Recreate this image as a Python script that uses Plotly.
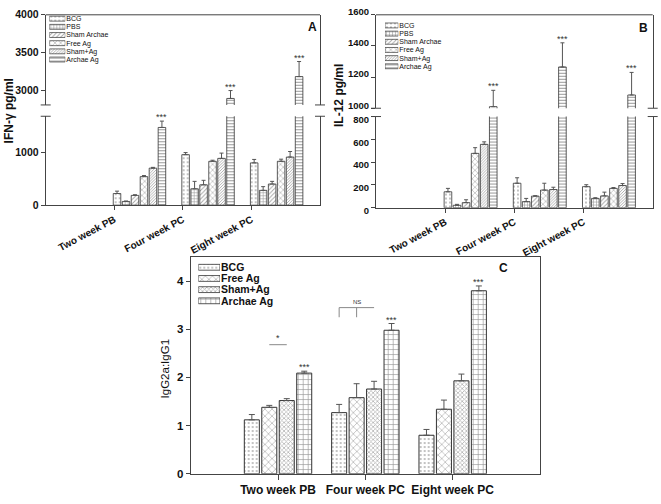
import plotly.graph_objects as go

# ---------------- data ----------------
groups = ["Two week PB", "Four week PC", "Eight week PC"]
series_ab = ["BCG", "PBS", "Sham Archae", "Free Ag", "Sham+Ag", "Archae Ag"]
series_c = ["BCG", "Free Ag", "Sham+Ag", "Archae Ag"]

# Panel A: IFN-gamma pg/ml
ifn_bcg = [220, 955, 800]
ifn_bcg_err = [45, 40, 65]
ifn_pbs = [70, 310, 280]
ifn_pbs_err = [8, 140, 70]
ifn_sham_archae = [185, 385, 400]
ifn_sham_archae_err = [12, 85, 50]
ifn_free_ag = [540, 830, 830]
ifn_free_ag_err = [20, 20, 40]
ifn_sham_ag = [700, 885, 910]
ifn_sham_ag_err = [15, 100, 105]
ifn_archae_ag = [1470, 2890, 3180]
ifn_archae_ag_err = [120, 105, 200]

# Panel B: IL-12 pg/ml
il12_bcg = [140, 215, 185]
il12_bcg_err = [30, 48, 17]
il12_pbs = [22, 54, 82]
il12_pbs_err = [8, 28, 6]
il12_sham_archae = [45, 102, 104]
il12_sham_archae_err = [25, 4, 33]
il12_free_ag = [477, 155, 170]
il12_free_ag_err = [50, 60, 7]
il12_sham_ag = [556, 160, 195]
il12_sham_ag_err = [22, 20, 17]
il12_archae_ag = [1010, 1265, 1085]
il12_archae_ag_err = [105, 155, 145]

# Panel C: IgG2a:IgG1
igg_bcg = [1.12, 1.27, 0.80]
igg_bcg_err = [0.11, 0.17, 0.12]
igg_free_ag = [1.38, 1.58, 1.34]
igg_free_ag_err = [0.04, 0.29, 0.19]
igg_sham_ag = [1.52, 1.76, 1.93]
igg_sham_ag_err = [0.04, 0.16, 0.14]
igg_archae_ag = [2.09, 2.98, 3.80]
igg_archae_ag_err = [0.04, 0.14, 0.10]

# axis ticks / ranges
a_low_ticks = [0, 1000]
a_high_ticks = [3000, 3500, 4000]
b_low_ticks = [0, 200, 400, 600, 800]
b_high_ticks = [1000, 1200, 1400, 1600]
c_ticks = [0, 1, 2, 3, 4]

# significance annotation levels (panel C)
star_bracket_y = 2.68
ns_bracket_top = 3.45
ns_bracket_bottom = 3.25

# ---------------- styling ----------------
FONT = "Liberation Sans, Arial, sans-serif"
W, H = 661, 504
LINE = "#444"


def px(x):
    return x / W


def py(y):
    return 1 - y / H


pat_ab = {
    "BCG": dict(shape=".", size=4, solidity=0.18, fgcolor="#555"),
    "PBS": dict(shape="+", size=3, solidity=0.35, fgcolor="#333"),
    "Sham Archae": dict(shape="/", size=3, solidity=0.3, fgcolor="#444"),
    "Free Ag": dict(shape="x", size=4, solidity=0.25, fgcolor="#444"),
    "Sham+Ag": dict(shape="/", size=2, solidity=0.45, fgcolor="#555"),
    "Archae Ag": dict(shape="-", size=3, solidity=0.35, fgcolor="#333"),
}
pat_c = {
    "BCG": dict(shape=".", size=4, solidity=0.18, fgcolor="#555"),
    "Free Ag": dict(shape="x", size=5, solidity=0.22, fgcolor="#444"),
    "Sham+Ag": dict(shape="x", size=3, solidity=0.45, fgcolor="#666"),
    "Archae Ag": dict(shape="+", size=5, solidity=0.25, fgcolor="#333"),
}

AB_W, AB_STEP, AB_START = 0.11, 0.131, -0.015
C_W, C_STEP, C_START = 0.172, 0.2, -0.386

fig = go.Figure()


def add_bars(vals, errs, names, pats, xref, yrefs, width, step, start, lw, capw):
    for i, name in enumerate(names):
        for yr in yrefs:
            fig.add_trace(go.Bar(
                x=groups, y=vals[i], name=name, xaxis=xref, yaxis=yr,
                width=width, offset=start + i * step,
                marker=dict(color="white", line=dict(color="#333", width=lw),
                            pattern=dict(bgcolor="white", **pats[name])),
                error_y=dict(type="data", array=errs[i], arrayminus=[0] * len(errs[i]),
                             symmetric=False, color="#555", thickness=1, width=capw),
                showlegend=False, hoverinfo="skip"))


ifn_vals = [ifn_bcg, ifn_pbs, ifn_sham_archae, ifn_free_ag, ifn_sham_ag, ifn_archae_ag]
ifn_errs = [ifn_bcg_err, ifn_pbs_err, ifn_sham_archae_err, ifn_free_ag_err, ifn_sham_ag_err, ifn_archae_ag_err]
il12_vals = [il12_bcg, il12_pbs, il12_sham_archae, il12_free_ag, il12_sham_ag, il12_archae_ag]
il12_errs = [il12_bcg_err, il12_pbs_err, il12_sham_archae_err, il12_free_ag_err, il12_sham_ag_err, il12_archae_ag_err]
igg_vals = [igg_bcg, igg_free_ag, igg_sham_ag, igg_archae_ag]
igg_errs = [igg_bcg_err, igg_free_ag_err, igg_sham_ag_err, igg_archae_ag_err]

add_bars(ifn_vals, ifn_errs, series_ab, pat_ab, "x", ["y", "y2"], AB_W, AB_STEP, AB_START, 0.8, 2)
add_bars(il12_vals, il12_errs, series_ab, pat_ab, "x2", ["y3", "y4"], AB_W, AB_STEP, AB_START, 0.8, 2)
add_bars(igg_vals, igg_errs, series_c, pat_c, "x3", ["y5"], C_W, C_STEP, C_START, 1, 3)


# legend swatches as small bar charts
def add_legend(names, pats, xref, yref, bw, lw):
    fig.add_trace(go.Bar(
        orientation="h", y=names, x=[1] * len(names), width=bw, xaxis=xref, yaxis=yref,
        marker=dict(color="white", line=dict(color="#333", width=lw),
                    pattern=dict(shape=[pats[n]["shape"] for n in names],
                                 size=[pats[n]["size"] for n in names],
                                 solidity=[pats[n]["solidity"] for n in names],
                                 fgcolor=[pats[n]["fgcolor"] for n in names],
                                 bgcolor="white")),
        showlegend=False, hoverinfo="skip"))


add_legend(series_ab, pat_ab, "x4", "y6", 0.6, 0.7)
add_legend(series_ab, pat_ab, "x5", "y7", 0.6, 0.7)
add_legend(series_c, pat_c, "x6", "y8", 0.52, 0.8)


def xcat(dom, anchor, size, angle, ticklen=4):
    return dict(domain=dom, anchor=anchor, type="category", range=[-1, 3],
                showline=True, linecolor=LINE, linewidth=1, ticks="outside", ticklen=ticklen,
                tickcolor=LINE, tickangle=angle, showgrid=False, zeroline=False,
                tickfont=dict(family=FONT, size=size, color="#111", weight="bold"))


def ylin(dom, anchor, rng, tv, size=10.5, shift=0):
    return dict(domain=dom, anchor=anchor, range=rng, tickvals=tv, showline=True, mirror=True,
                linecolor=LINE, linewidth=1, ticks="outside", ticklen=4, tickcolor=LINE,
                showgrid=False, zeroline=False, ticklabelshift=shift,
                tickfont=dict(family=FONT, size=size, color="#111", weight="bold"))


def leg_axes(xdom, ydom, names, size, bold, xa_anchor, ya_anchor):
    xa = dict(domain=xdom, anchor=xa_anchor, range=[0, 1], visible=False, fixedrange=True)
    ya = dict(domain=ydom, anchor=ya_anchor, type="category", categoryorder="array",
              categoryarray=names, tickmode="array", tickvals=names, ticktext=names,
              range=[len(names) - 0.5, -0.5], side="right", showline=False, ticks="",
              showgrid=False, zeroline=False,
              tickfont=dict(family=FONT, size=size, color="#111", weight="bold" if bold else "normal"))
    return xa, ya


A_X = [px(45.7), px(320)]
A_LOW = [py(203), py(111)]
A_HIGH = [py(99.3), py(6)]
B_X = [px(376), px(652.7)]
B_LOW = [py(205.7), py(111.3)]
B_HIGH = [py(102.7), py(6)]
C_X = [px(190.7), px(540)]
C_Y = [py(481), py(256.7)]

lxA, lyA = leg_axes([px(49.3), px(65.3)], [py(56.5), py(5.8)], series_ab, 7, False, "y6", "x4")
lxB, lyB = leg_axes([px(385), px(398.3)], [py(63.5), py(12.8)], series_ab, 7, False, "y7", "x5")
lxC, lyC = leg_axes([px(198.3), px(220)], [py(307.8), py(261.5)], series_c, 10.5, True, "y8", "x6")

a_low_max = 1682
b_low_max = 800

fig.update_layout(
    width=W, height=H, margin=dict(l=0, r=0, t=0, b=0),
    paper_bgcolor="white", plot_bgcolor="white", barmode="overlay", showlegend=False,
    font=dict(family=FONT, color="#222"),
    xaxis=xcat(A_X, "y", 10, -28),
    yaxis=ylin(A_LOW, "x", [0, a_low_max], a_low_ticks),
    yaxis2=ylin(A_HIGH, "x", [2804, 4000], a_high_ticks),
    xaxis2=xcat(B_X, "y3", 10, -28),
    yaxis3=ylin(B_LOW, "x2", [0, b_low_max], b_low_ticks, 9.5, 3),
    yaxis4=ylin(B_HIGH, "x2", [1000, 1600], b_high_ticks, 9.5, -3),
    xaxis3=dict(xcat(C_X, "y5", 12, 0, 5), mirror=True),
    yaxis5=ylin(C_Y, "x3", [0, 4.5], c_ticks, 11.5),
    xaxis4=lxA, yaxis6=lyA, xaxis5=lxB, yaxis7=lyB, xaxis6=lxC, yaxis8=lyC,
)

shapes = []
# top border of broken panels and break marks
for xd, low, high in [(A_X, A_LOW, A_HIGH), (B_X, B_LOW, B_HIGH)]:
    shapes.append(dict(type="line", xref="paper", yref="paper", x0=xd[0], x1=xd[1],
                       y0=high[1], y1=high[1], line=dict(color=LINE, width=1)))
    for xe in xd:
        for ye in (low[1], high[0]):
            shapes.append(dict(type="line", xref="paper", yref="paper",
                               x0=xe - 5 / W, x1=xe + 5 / W, y0=ye, y1=ye,
                               line=dict(color=LINE, width=1)))

annotations = []


def center(i, start, step, width):
    return start + i * step + width / 2


star_font = dict(family=FONT, size=9, color="#333")
last_ab = len(series_ab) - 1
for g in range(len(groups)):
    top = ifn_archae_ag[g] + ifn_archae_ag_err[g]
    annotations.append(dict(x=g + center(last_ab, AB_START, AB_STEP, AB_W), xref="x",
                            y=top, yref="y" if top <= a_low_max else "y2",
                            text="***", showarrow=False, xanchor="center", yanchor="bottom",
                            yshift=-3, font=star_font))
    top = il12_archae_ag[g] + il12_archae_ag_err[g]
    annotations.append(dict(x=g + center(last_ab, AB_START, AB_STEP, AB_W), xref="x2",
                            y=top, yref="y3" if top <= b_low_max else "y4",
                            text="***", showarrow=False, xanchor="center", yanchor="bottom",
                            yshift=-3, font=star_font))
    top = igg_archae_ag[g] + igg_archae_ag_err[g]
    annotations.append(dict(x=g + center(3, C_START, C_STEP, C_W), xref="x3",
                            y=top, yref="y5", text="***", showarrow=False,
                            xanchor="center", yanchor="bottom", yshift=-3, font=star_font))

# panel C significance brackets
c_free = center(1, C_START, C_STEP, C_W)
c_sham = center(2, C_START, C_STEP, C_W)
c_bcg = center(0, C_START, C_STEP, C_W)
shapes.append(dict(type="line", xref="x3", yref="y5", x0=0 + c_free, x1=0 + c_sham,
                   y0=star_bracket_y, y1=star_bracket_y, line=dict(color="#888", width=1)))
annotations.append(dict(x=0 + (c_free + c_sham) / 2, xref="x3", y=star_bracket_y, yref="y5",
                        text="*", showarrow=False, xanchor="center", yanchor="bottom", yshift=0,
                        font=star_font))
shapes.append(dict(type="line", xref="x3", yref="y5", x0=1 + c_bcg, x1=1 + c_sham,
                   y0=ns_bracket_top, y1=ns_bracket_top, line=dict(color="#888", width=1)))
for cx in (c_bcg, c_free):
    shapes.append(dict(type="line", xref="x3", yref="y5", x0=1 + cx, x1=1 + cx,
                       y0=ns_bracket_bottom, y1=ns_bracket_top, line=dict(color="#888", width=1)))
annotations.append(dict(x=1 + c_free, xref="x3", y=ns_bracket_top, yref="y5",
                        text="NS", showarrow=False, xanchor="center", yanchor="bottom", yshift=1,
                        font=dict(family=FONT, size=6, color="#333")))

# panel letters and axis titles
for txt, x, y in [("A", 312.7, 18.3), ("B", 643, 20), ("C", 503.3, 268.3)]:
    annotations.append(dict(x=px(x), y=py(y), xref="paper", yref="paper", text=txt,
                            xanchor="center", yanchor="middle", showarrow=False,
                            font=dict(family=FONT, size=12, color="#111", weight="bold")))
for txt, x, y, fs, wt in [("IFN-γ pg/ml", 9, 106, 12, "bold"),
                          ("IL-12 pg/ml", 339, 90, 12, "bold"),
                          ("IgG2a:IgG1", 165, 373, 11.5, "normal")]:
    annotations.append(dict(x=px(x), y=py(y), xref="paper", yref="paper", text=txt,
                            textangle=-90, xanchor="center", yanchor="middle", showarrow=False,
                            font=dict(family=FONT, size=fs, color="#111", weight=wt)))

fig.update_layout(shapes=shapes, annotations=annotations)
fig.write_html("out.html", config={"displayModeBar": False},
               post_script="document.body.style.margin='0';")
